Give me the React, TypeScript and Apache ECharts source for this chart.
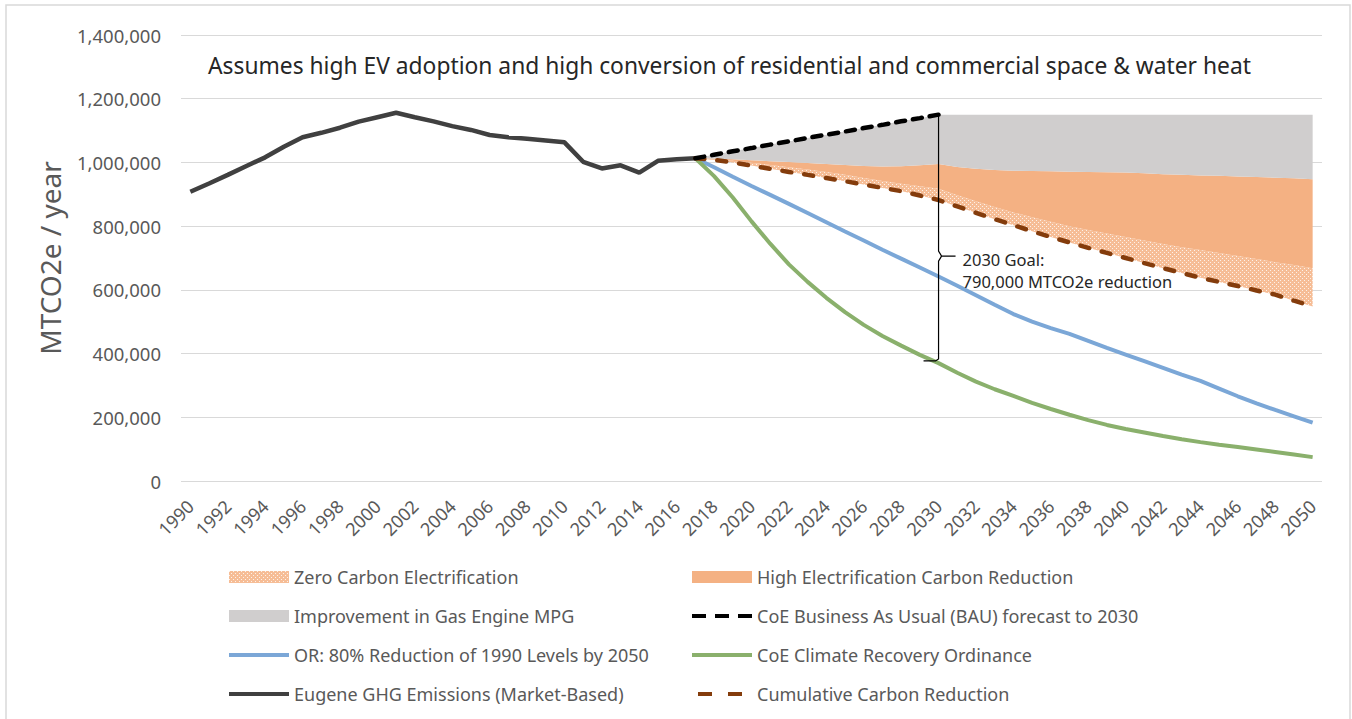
import React, { useEffect, useRef } from "react";
import * as echarts from "echarts";

// ---------- Data ----------
const years: string[] = Array.from({ length: 61 }, (_, i) => String(1990 + i));

// Eugene GHG Emissions (Market-Based), 1990–2017
const eugeneEmissions = [
  908000, 934000, 961000, 989000, 1016000, 1049000, 1079000, 1093000, 1109000, 1128000,
  1142000, 1156000, 1142000, 1129000, 1114000, 1102000, 1086000, 1079000, 1074000, 1069000,
  1063000, 1002000, 981000, 991000, 968000, 1005000, 1010000, 1013000,
];

// CoE Business As Usual (BAU) forecast, 2017–2030
const bauForecast = [
  1013000, 1024000, 1035000, 1045000, 1056000, 1066000, 1077000, 1087000, 1097000, 1108000,
  1118000, 1129000, 1139000, 1150000,
];

// Projection series, 2017–2050
const mpgTop = [
  1013000, 1024000, 1035000, 1045000, 1056000, 1066000, 1077000, 1087000, 1097000, 1108000,
  1118000, 1129000, 1139000, 1150000, 1150000, 1150000, 1150000, 1150000, 1150000, 1150000,
  1150000, 1150000, 1150000, 1150000, 1150000, 1150000, 1150000, 1150000, 1150000, 1150000,
  1150000, 1150000, 1150000, 1150000,
];
const highElecTop = [
  1013000, 1012000, 1010000, 1007000, 1004000, 1001000, 998000, 995000, 992000, 989000,
  987000, 988000, 991000, 995000, 986000, 980000, 976000, 974000, 973000, 972000,
  971000, 970000, 969000, 968000, 966000, 963000, 961000, 959000, 958000, 956000,
  954000, 952000, 950000, 947000,
];
const zeroCarbonTop = [
  1013000, 1010000, 1005000, 999000, 992000, 985000, 978000, 970000, 961000, 951000,
  942000, 933000, 925000, 917000, 897000, 878000, 860000, 843000, 828000, 814000,
  800000, 788000, 777000, 766000, 755000, 744000, 734000, 725000, 716000, 706000,
  697000, 687000, 678000, 668000,
];
const cumulativeReduction = [
  1013000, 1008000, 1000000, 990000, 980000, 970000, 961000, 951000, 941000, 931000,
  920000, 910000, 896000, 882000, 862000, 842000, 822000, 803000, 784000, 766000,
  749000, 732000, 716000, 700000, 684000, 668000, 653000, 638000, 625000, 612000,
  598000, 585000, 566000, 548000,
];
const orReduction = [
  1013000, 985000, 955000, 926000, 898000, 870000, 841000, 812000, 783000, 755000,
  726000, 698000, 670000, 642000, 613000, 583000, 553000, 524000, 500000, 480000,
  462000, 440000, 418000, 397000, 376000, 355000, 334000, 314000, 290000, 266000,
  244000, 223000, 203000, 183000,
];
const climateOrdinance = [
  1013000, 957000, 890000, 815000, 745000, 680000, 625000, 575000, 530000, 490000,
  455000, 425000, 396000, 370000, 340000, 312000, 288000, 267000, 245000, 226000,
  208000, 191000, 176000, 163000, 152000, 141000, 131000, 122000, 114000, 107000,
  99000, 91000, 83000, 75000,
];

const yTicks = { min: 0, max: 1400000, interval: 200000 };
const goalYear = "2030";
const goalTop = 1150000;
const goalMid = 706000;
const goalBottom = 377000;
const titleText =
  "Assumes high EV adoption and high conversion of residential and commercial space & water heat";
const goalText = "2030 Goal:\n790,000 MTCO2e reduction";

// ---------- Helpers ----------
const projStart = years.indexOf("2017");
const padFront = (arr: (number | null)[]) => [
  ...Array(projStart).fill(null),
  ...arr,
  ...Array(years.length - projStart - arr.length).fill(null),
];
const diff = (a: number[], b: number[]) => a.map((v, i) => v - b[i]);

function dotPattern(): string {
  const c = document.createElement("canvas");
  c.width = 4;
  c.height = 4;
  const ctx = c.getContext("2d")!;
  ctx.fillStyle = "#f6bd96";
  ctx.fillRect(0, 0, 4, 4);
  ctx.fillStyle = "#fdf1e8";
  ctx.fillRect(0, 0, 1, 1);
  ctx.fillRect(2, 2, 1, 1);
  return c.toDataURL();
}

const FONT = "Noto Sans";
const GREY_TEXT = "#595959";
const hiddenSymbol = { opacity: 0, color: "rgba(0,0,0,0)", borderWidth: 0 };

export default function App() {
  const ref = useRef<HTMLDivElement>(null);

  useEffect(() => {
    if (!ref.current) return;
    const chart = echarts.init(ref.current, null, { renderer: "svg" });
    const pattern = { image: dotPattern(), repeat: "repeat" } as any;

    const orange = "#f4b183";
    const grey = "#d0cece";

    const legendText = { fontFamily: FONT, fontSize: 18, color: GREY_TEXT, lineHeight: 20 };
    const lineItem = (name: string, extra: any = {}) => ({
      name,
      itemStyle: hiddenSymbol,
      lineStyle: { width: 4, ...extra },
    });

    const option: any = {
      animation: false,
      backgroundColor: "#ffffff",
      textStyle: { fontFamily: FONT },
      title: {
        text: titleText,
        left: 203,
        top: 49,
        textStyle: { fontFamily: FONT, fontSize: 22.8, fontWeight: "normal", color: "#262626" },
      },
      grid: { left: 181, right: 30, top: 35, bottom: 238, containLabel: false },
      legend: [
        {
          orient: "vertical",
          left: 222,
          top: 562,
          itemWidth: 60,
          itemHeight: 12,
          itemGap: 19,
          textStyle: legendText,
          data: [
            { name: "Zero Carbon Electrification", icon: "rect", itemStyle: { color: pattern } },
            { name: "Improvement in Gas Engine MPG", icon: "rect", itemStyle: { color: grey } },
            lineItem("OR: 80% Reduction of 1990 Levels by 2050"),
            lineItem("Eugene GHG Emissions (Market-Based)"),
          ],
        },
        {
          orient: "vertical",
          left: 685,
          top: 562,
          itemWidth: 60,
          itemHeight: 12,
          itemGap: 19,
          textStyle: legendText,
          data: [
            { name: "High Electrification Carbon Reduction", icon: "rect", itemStyle: { color: orange } },
            lineItem("CoE Business As Usual (BAU) forecast to 2030", { type: [14, 9], cap: "butt" }),
            lineItem("CoE Climate Recovery Ordinance"),
            lineItem("Cumulative Carbon Reduction", { type: [14, 16], dashOffset: 24, cap: "butt" }),
          ],
        },
      ],
      xAxis: {
        type: "category",
        data: years,
        boundaryGap: true,
        axisLine: { show: false },
        axisTick: { show: false },
        axisLabel: {
          interval: 1,
          rotate: 45,
          fontSize: 18,
          color: GREY_TEXT,
          fontFamily: FONT,
          margin: 22,
        },
        splitLine: { show: false },
      },
      yAxis: {
        type: "value",
        min: yTicks.min,
        max: yTicks.max,
        interval: yTicks.interval,
        name: "MTCO2e / year",
        nameLocation: "middle",
        nameGap: 117,
        nameTextStyle: { fontSize: 28, color: GREY_TEXT, fontFamily: FONT },
        axisLine: { show: false },
        axisTick: { show: false },
        axisLabel: {
          fontSize: 18.5,
          color: GREY_TEXT,
          fontFamily: FONT,
          margin: 20,
          formatter: (v: number) => v.toLocaleString("en-US"),
        },
        splitLine: { lineStyle: { color: "#d9d9d9", width: 1 } },
      },
      series: [
        {
          name: "Cumulative Carbon Reduction",
          type: "line",
          stack: "reduction",
          data: padFront(cumulativeReduction),
          symbol: "none",
          z: 6,
          itemStyle: { color: "#843c0c" },
          lineStyle: { color: "#843c0c", width: 4.5, type: [9, 13], cap: "round" },
        },
        {
          name: "Zero Carbon Electrification",
          type: "line",
          stack: "reduction",
          data: padFront(diff(zeroCarbonTop, cumulativeReduction)),
          symbol: "none",
          z: 2,
          itemStyle: { color: pattern },
          lineStyle: { width: 0, opacity: 0 },
          areaStyle: { color: pattern, opacity: 1 },
        },
        {
          name: "High Electrification Carbon Reduction",
          type: "line",
          stack: "reduction",
          data: padFront(diff(highElecTop, zeroCarbonTop)),
          symbol: "none",
          z: 2,
          itemStyle: { color: orange },
          lineStyle: { width: 0, opacity: 0 },
          areaStyle: { color: orange, opacity: 1 },
        },
        {
          name: "Improvement in Gas Engine MPG",
          type: "line",
          stack: "reduction",
          data: padFront(diff(mpgTop, highElecTop)),
          symbol: "none",
          z: 2,
          itemStyle: { color: grey },
          lineStyle: { width: 0, opacity: 0 },
          areaStyle: { color: grey, opacity: 1 },
        },
        {
          name: "OR: 80% Reduction of 1990 Levels by 2050",
          type: "line",
          data: padFront(orReduction),
          symbol: "none",
          z: 4,
          itemStyle: { color: "#7ba7d7" },
          lineStyle: { color: "#7ba7d7", width: 4 },
        },
        {
          name: "CoE Climate Recovery Ordinance",
          type: "line",
          data: padFront(climateOrdinance),
          symbol: "none",
          z: 4,
          itemStyle: { color: "#8ab06c" },
          lineStyle: { color: "#8ab06c", width: 4 },
        },
        {
          name: "Eugene GHG Emissions (Market-Based)",
          type: "line",
          data: [...eugeneEmissions, ...Array(years.length - eugeneEmissions.length).fill(null)],
          symbol: "none",
          z: 5,
          itemStyle: { color: "#404040" },
          lineStyle: { color: "#404040", width: 4.5 },
        },
        {
          name: "CoE Business As Usual (BAU) forecast to 2030",
          type: "line",
          data: padFront(bauForecast),
          symbol: "none",
          z: 6,
          itemStyle: { color: "#000000" },
          lineStyle: { color: "#000000", width: 4.5, type: [9, 8], cap: "round" },
        },
      ],
    };

    chart.setOption(option);

    const xi = years.indexOf(goalYear);
    const toPx = (v: number) =>
      chart.convertToPixel({ xAxisIndex: 0, yAxisIndex: 0 }, [xi, v]) as number[];
    const [x, yT] = toPx(goalTop);
    const yM = toPx(goalMid)[1];
    const yB = toPx(goalBottom)[1];
    const stroke = { stroke: "#000000", lineWidth: 1.2, fill: null };

    chart.setOption({
      graphic: [
        {
          type: "rect",
          shape: { x: 6, y: 5, width: 1344, height: 720 },
          style: { fill: null, stroke: "#d9d9d9", lineWidth: 1.5 },
          silent: true,
        },
        { type: "polyline", z: 10, shape: { points: [[x - 4, yT + 2], [x, yT], [x, yM - 5], [x + 3, yM], [x + 17, yM]] }, style: stroke },
        { type: "polyline", z: 10, shape: { points: [[x + 3, yM], [x, yM + 5], [x, yB - 2], [x - 3, yB], [x - 15, yB]] }, style: stroke },
        {
          type: "text",
          z: 10,
          x: x + 24,
          y: yM - 8,
          style: {
            text: goalText,
            fontFamily: FONT,
            fontSize: 16.5,
            lineHeight: 22,
            fill: "#262626",
            verticalAlign: "top",
          },
        },
      ],
    });

    return () => chart.dispose();
  }, []);

  return (
    <div
      ref={ref}
      style={{ position: "absolute", left: 0, top: 0, width: 1352, height: 719 }}
    />
  );
}
